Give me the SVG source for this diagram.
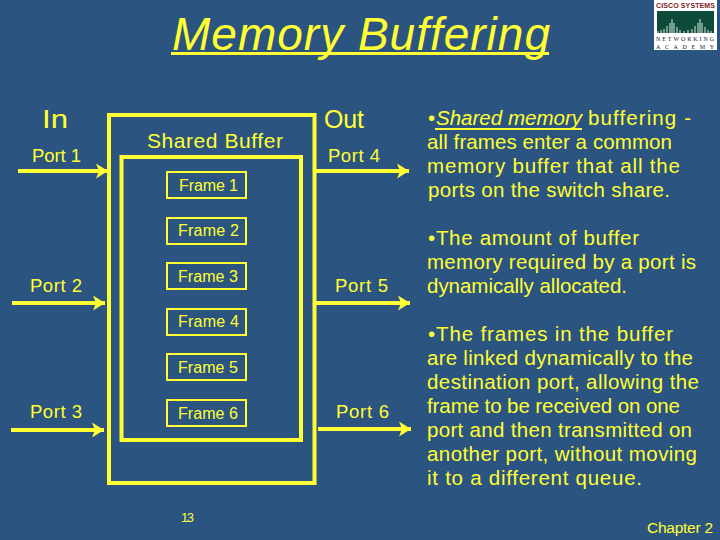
<svg xmlns="http://www.w3.org/2000/svg" width="720" height="540" viewBox="0 0 720 540">
<style>
text{font-family:"Liberation Sans",Arial,sans-serif;fill:#ffff33}
.box{fill:none;stroke:#ffff33}
.b4{stroke-width:4}
.f{stroke-width:2}
.c{stroke:#ffff33;stroke-width:4;fill:none}
.h{fill:#ffff33}
.port{font-size:18.5px}
.fr{font-size:16px}
.body{font-size:20.5px}
</style>
<defs>
<marker id="a" markerUnits="userSpaceOnUse" markerWidth="15" markerHeight="16" refX="14" refY="8" orient="auto"><path class="h" d="M2 0.500L14 8L2 15.500L5 8Z"/></marker>
</defs>
<rect width="720" height="540" fill="#2c5480"/>
<g id="title">
<text x="172" y="50" font-size="46" font-style="italic" textLength="378" lengthAdjust="spacing">Memory Buffering</text>
<rect x="171" y="52" width="378" height="3" fill="#ffff33"/>
</g>
<g id="logo">
<rect x="654" y="0" width="63" height="50" fill="#fff"/>
<text x="656" y="8" font-size="7" font-weight="bold" style="fill:#7a1c1c" textLength="59">CISCO SYSTEMS</text>
<rect x="657" y="11" width="57" height="22" fill="#0d4a3a"/>
<path d="M658 33V31M661 33V30M664 33V29M667 33V26M670 33V23M672 33V19M674 33V23M677 33V27M680 33V30M684 33V31M688 33V30M692 33V29M695 33V26M698 33V23M700 33V19M702 33V23M705 33V27M708 33V30M711 33V31" stroke="#dfe8e0" stroke-width="1" fill="none"/>
<text x="656" y="41" font-size="6" style="fill:#223;font-family:'Liberation Serif',serif" textLength="58">NETWORKING</text>
<text x="656" y="49" font-size="6" style="fill:#223;font-family:'Liberation Serif',serif" textLength="58">ACADEMY</text>
</g>
<g id="connectors">
<line class="c" x1="18" y1="171" x2="108" y2="171" marker-end="url(#a)"/>
<line class="c" x1="12" y1="303" x2="105" y2="303" marker-end="url(#a)"/>
<line class="c" x1="11" y1="430" x2="104" y2="430" marker-end="url(#a)"/>
<line class="c" x1="316" y1="171" x2="409" y2="171" marker-end="url(#a)"/>
<line class="c" x1="316" y1="303" x2="410" y2="303" marker-end="url(#a)"/>
<line class="c" x1="318" y1="429" x2="411" y2="429" marker-end="url(#a)"/>
</g>
<g id="outer-box">
<rect class="box b4" x="109" y="115" width="205.500" height="368"/>
<text x="147" y="148" font-size="21" textLength="136">Shared Buffer</text>
</g>
<g id="inner-box"><rect class="box b4" x="121.500" y="157" width="179.500" height="283"/></g>
<g id="frame-1"><rect class="box f" x="167" y="172" width="79" height="26"/><text class="fr" x="179" y="191" textLength="59">Frame 1</text></g>
<g id="frame-2"><rect class="box f" x="167" y="218" width="79" height="26"/><text class="fr" x="178" y="236" textLength="61">Frame 2</text></g>
<g id="frame-3"><rect class="box f" x="167" y="263" width="79" height="26"/><text class="fr" x="178" y="282" textLength="60">Frame 3</text></g>
<g id="frame-4"><rect class="box f" x="167" y="309" width="79" height="26"/><text class="fr" x="178" y="327" textLength="61">Frame 4</text></g>
<g id="frame-5"><rect class="box f" x="167" y="354" width="79" height="26"/><text class="fr" x="178" y="373" textLength="60">Frame 5</text></g>
<g id="frame-6"><rect class="box f" x="167" y="400" width="79" height="26"/><text class="fr" x="178" y="419" textLength="60">Frame 6</text></g>
<g id="labels">
<text x="42" y="128" font-size="25" textLength="26" lengthAdjust="spacingAndGlyphs">In</text>
<text x="324" y="128" font-size="25" textLength="40">Out</text>
<text class="port" x="32" y="162" textLength="49">Port 1</text>
<text class="port" x="30" y="292" textLength="52">Port 2</text>
<text class="port" x="30" y="418" textLength="52">Port 3</text>
<text class="port" x="328" y="162" textLength="52">Port 4</text>
<text class="port" x="335" y="292" textLength="53">Port 5</text>
<text class="port" x="336" y="418" textLength="53">Port 6</text>
<text x="181" y="522" font-size="13" textLength="13">13</text>
<text x="647" y="533" font-size="15.500" textLength="66">Chapter 2</text>
</g>
<g id="notes">
<text class="body" x="428" y="125">•</text>
<text class="body" x="436" y="125" font-style="italic" textLength="146">Shared memory</text>
<rect x="435" y="128" width="147" height="2" fill="#ffff33"/>
<text class="body" x="588" y="125" textLength="103">buffering -</text>
<text class="body" x="427" y="149" textLength="245">all frames enter a common</text>
<text class="body" x="427" y="173" textLength="253">memory buffer that all the</text>
<text class="body" x="428" y="197" textLength="242">ports on the switch share.</text>
<text class="body" x="428" y="245" textLength="211">•The amount of buffer</text>
<text class="body" x="427" y="269" textLength="269">memory required by a port is</text>
<text class="body" x="427" y="293" textLength="200">dynamically allocated.</text>
<text class="body" x="428" y="341" textLength="245">•The frames in the buffer</text>
<text class="body" x="427" y="365" textLength="266">are linked dynamically to the</text>
<text class="body" x="427" y="389" textLength="272">destination port, allowing the</text>
<text class="body" x="427" y="413" textLength="253">frame to be received on one</text>
<text class="body" x="427" y="437" textLength="265">port and then transmitted on</text>
<text class="body" x="427" y="461" textLength="270">another port, without moving</text>
<text class="body" x="427" y="485" textLength="215">it to a different queue.</text>
</g>
</svg>
